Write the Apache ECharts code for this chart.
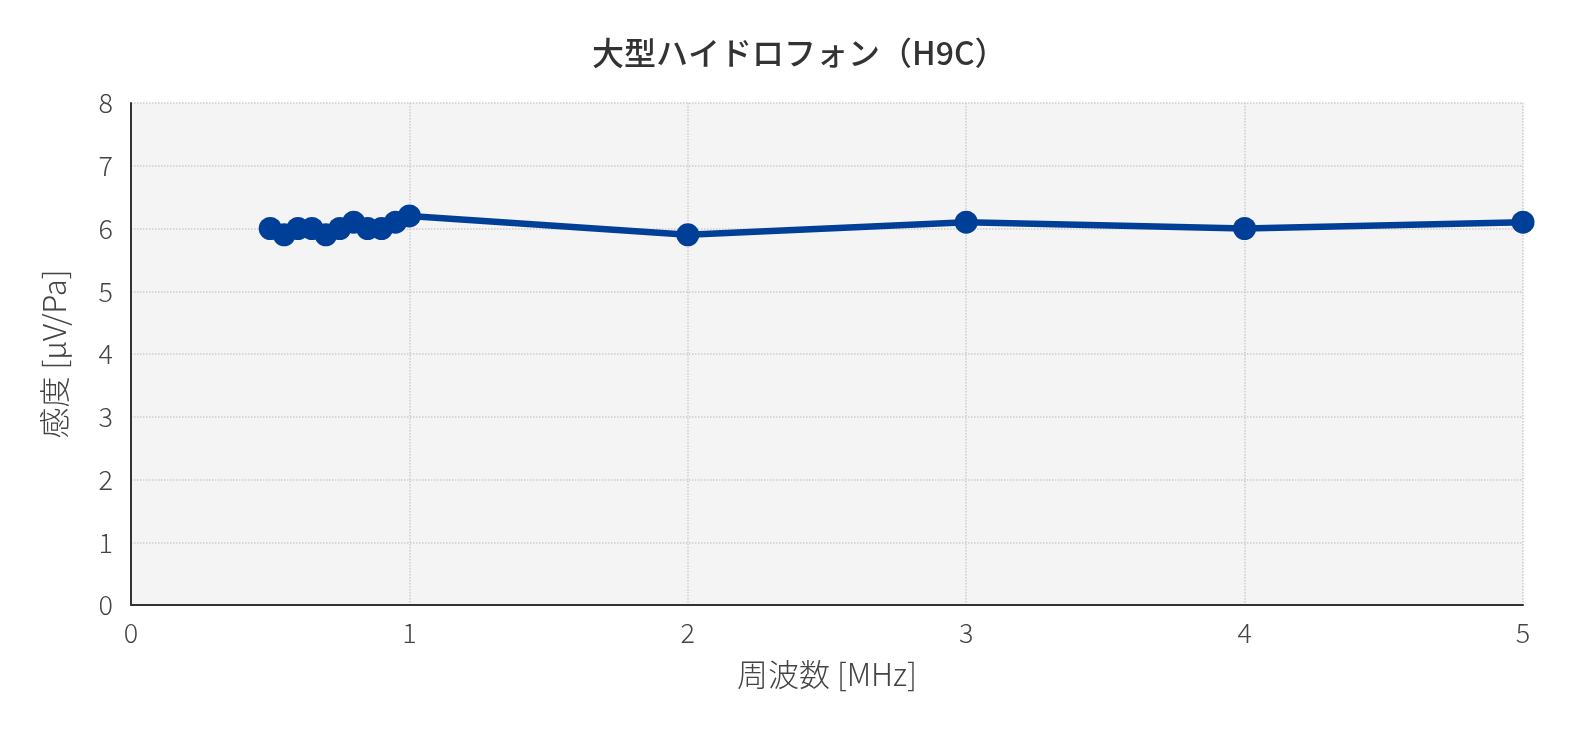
<!DOCTYPE html>
<html><head><meta charset="utf-8">
<script src="https://cdn.jsdelivr.net/npm/echarts@6/dist/echarts.min.js"></script>
<style>html,body{margin:0;padding:0;background:#fff}#c{width:1574px;height:732px}</style>
</head><body><div id="c"></div>
<script>
const titleText = '大型ハイドロフォン（H9C）';
const xName = '周波数 [MHz]';
const yName = '感度 [μV/Pa]';
const freq = [0.5,0.55,0.6,0.65,0.7,0.75,0.8,0.85,0.9,0.95,1.0,2,3,4,5];
const sens = [6.0,5.9,6.0,6.0,5.9,6.0,6.1,6.0,6.0,6.1,6.2,5.9,6.1,6.0,6.1];
const F = '"Noto Sans CJK JP","Noto Sans",sans-serif';
const chart = echarts.init(document.getElementById('c'));
chart.setOption({
  backgroundColor:'#fff',
  title:{text:titleText,left:587,top:32,textStyle:{fontFamily:F,fontSize:32,fontWeight:500,color:'#333'}},
  grid:{left:131,right:51,top:103,bottom:127,show:true,backgroundColor:'#f4f4f4',borderWidth:0},
  xAxis:{type:'value',min:0,max:5,interval:1,name:xName,nameLocation:'middle',nameGap:54,
    nameTextStyle:{fontFamily:F,fontSize:31,fontWeight:300,color:'#444'},
    axisLine:{show:true,onZero:false,lineStyle:{color:'#333',width:2}},axisTick:{show:false},
    axisLabel:{fontFamily:F,fontSize:27,fontWeight:300,color:'#444',margin:14},
    splitLine:{show:true,lineStyle:{color:'#cccccc',type:'dotted',width:1.5}}},
  yAxis:{type:'value',min:0,max:8,interval:1,name:yName,nameLocation:'middle',nameGap:61,
    nameTextStyle:{fontFamily:F,fontSize:31,fontWeight:300,color:'#444'},
    axisLine:{show:true,onZero:false,lineStyle:{color:'#333',width:2}},axisTick:{show:false},
    axisLabel:{fontFamily:F,fontSize:27,fontWeight:300,color:'#444',margin:18},
    splitLine:{show:true,lineStyle:{color:'#cccccc',type:'dotted',width:1.5}}},
  series:[{type:'line',data:freq.map((f,i)=>[f,sens[i]]),symbol:'circle',symbolSize:23,
    lineStyle:{color:'#003f98',width:6.5},itemStyle:{color:'#003f98'},animation:false}]
});
</script></body></html>
